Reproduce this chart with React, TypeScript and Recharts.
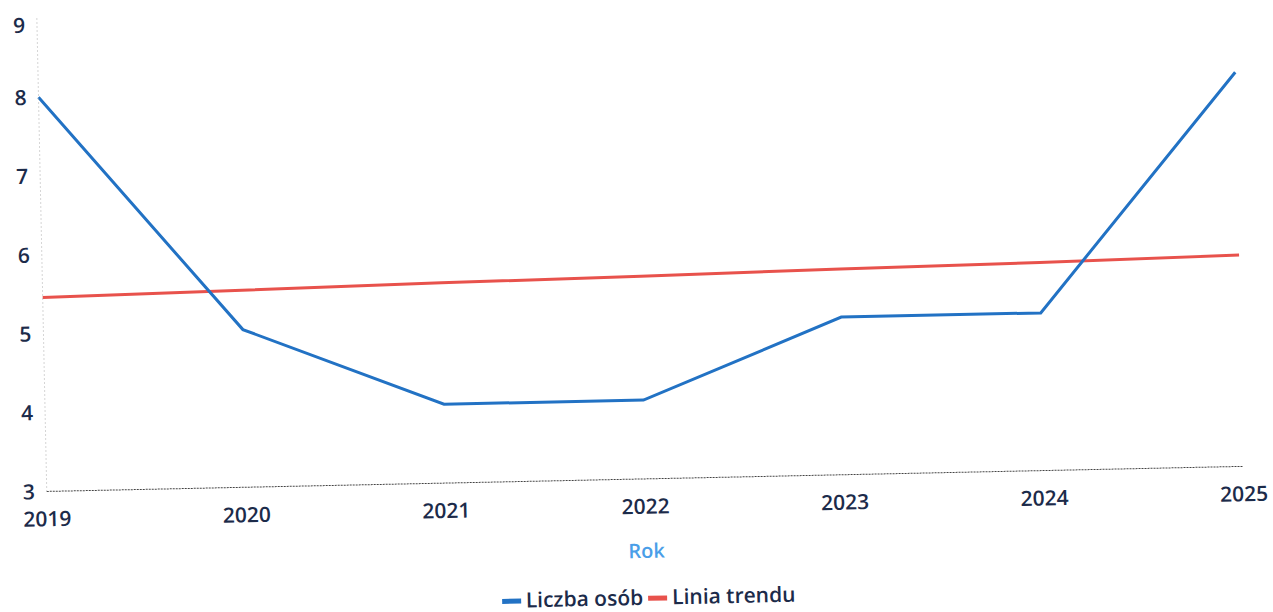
import React from "react";
import { LineChart, Line, XAxis, YAxis, Legend } from "recharts";

const years = ["2019", "2020", "2021", "2022", "2023", "2024", "2025"];
const liczbaOsob = [8, 5, 4, 4, 5, 5, 8];
const liniaTrendu = [5.46, 5.5, 5.54, 5.57, 5.61, 5.64, 5.68];
const yTicks = [3, 4, 5, 6, 7, 8, 9];

const data = years.map((y, i) => ({ year: y, count: liczbaOsob[i], trend: liniaTrendu[i] }));

const BLUE = "#2272c4";
const RED = "#e8524c";
const TEXT = "#1c2b4a";
const FONT = "'Open Sans', 'Noto Sans', sans-serif";

const LegendContent = () => (
  <div
    style={{
      display: "flex",
      justifyContent: "center",
      alignItems: "center",
      fontFamily: FONT,
      fontSize: 21,
      lineHeight: "23px",
      fontWeight: 600,
      color: TEXT,
      paddingTop: 28,
      paddingLeft: 50,
    }}
  >
    {[
      { name: "Liczba osób", color: BLUE },
      { name: "Linia trendu", color: RED },
    ].map((it) => (
      <span key={it.name} style={{ display: "inline-flex", alignItems: "center", marginRight: 5 }}>
        <span
          style={{
            display: "inline-block",
            width: 19,
            height: 5,
            background: it.color,
            marginRight: 5,
            marginTop: 2,
          }}
        />
        {it.name}
      </span>
    ))}
  </div>
);

export default function App() {
  return (
    <div
      style={{
        position: "absolute",
        left: 0,
        top: 0,
        width: 1273,
        height: 612,
        background: "#fff",
        transform: "rotate(-1.2deg)",
      }}
    >
      <LineChart
        width={1273}
        height={612}
        data={data}
        margin={{ top: 6, right: 33, left: 0, bottom: 0 }}
      >
        <XAxis
          dataKey="year"
          tickLine={false}
          tickSize={0}
          tickMargin={20}
          axisLine={{ stroke: "#444", strokeDasharray: "2 1", strokeWidth: 1 }}
          tick={{ fill: TEXT, fontSize: 21, fontWeight: 600, fontFamily: FONT }}
          height={53}
          label={{
            value: "Rok",
            position: "insideBottom",
            offset: -26,
            fill: "#4a9ee8",
            fontSize: 20,
            fontWeight: 600,
            fontFamily: FONT,
          }}
        />
        <YAxis
          domain={[3, 9]}
          ticks={yTicks}
          width={43}
          tickLine={false}
          tickSize={0}
          tickMargin={12}
          axisLine={{ stroke: "#aaa", strokeDasharray: "1 3", strokeWidth: 1 }}
          tick={{ fill: TEXT, fontSize: 21, fontWeight: 600, fontFamily: FONT }}
        />
        <Legend verticalAlign="bottom" height={54} content={<LegendContent />} />
        <Line
          type="linear"
          dataKey="trend"
          name="Linia trendu"
          stroke={RED}
          strokeWidth={3}
          dot={false}
          isAnimationActive={false}
        />
        <Line
          type="linear"
          dataKey="count"
          name="Liczba osób"
          stroke={BLUE}
          strokeWidth={3}
          dot={false}
          isAnimationActive={false}
        />
      </LineChart>
    </div>
  );
}
